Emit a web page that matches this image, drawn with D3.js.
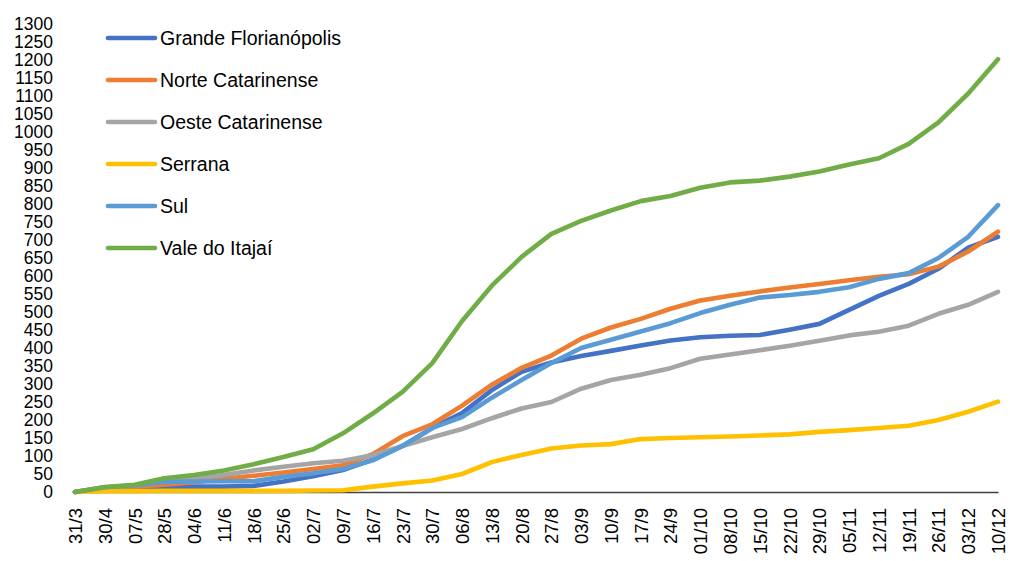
<!DOCTYPE html>
<html>
<head>
<meta charset="utf-8">
<script src="https://cdn.jsdelivr.net/npm/d3@7"></script>
<style>
  html, body { margin: 0; padding: 0; background: #fff; }
  svg { display: block; }
  text { font-family: "Liberation Sans", Arial, sans-serif; fill: #000; }
</style>
</head>
<body>
<svg id="chart" width="1010" height="561"></svg>
<script>
// Weekly dates (dd/m)
const categories = ["31/3","30/4","07/5","28/5","04/6","11/6","18/6","25/6","02/7","09/7",
  "16/7","23/7","30/7","06/8","13/8","20/8","27/8","03/9","10/9","17/9","24/9",
  "01/10","08/10","15/10","22/10","29/10","05/11","12/11","19/11","26/11","03/12","10/12"];

const grandeFlorianopolis = [0,10,13,15,15,15,17,29,44,61,90,128,178,219,283,334,360,378,392,407,421,430,434,436,451,467,506,545,578,620,679,709];
const norteCatarinense    = [0,10,14,20,27,37,45,54,64,74,105,155,188,240,298,345,379,426,457,481,509,532,545,557,568,578,588,598,605,626,668,723];
const oesteCatarinense    = [0,12,18,30,38,47,60,70,80,87,102,128,152,175,205,232,250,287,311,326,344,370,382,394,406,420,435,445,462,495,520,556];
const serrana             = [0,2,2,3,3,3,3,3,4,5,15,24,32,50,83,103,121,129,133,147,150,152,154,157,160,167,172,178,184,200,223,251];
const sul                 = [0,13,18,28,29,30,30,42,52,64,88,128,178,208,262,311,358,400,423,446,469,497,520,540,547,556,569,592,608,650,709,797];
const valeDoItajai        = [0,14,20,38,47,60,77,97,119,163,218,278,358,475,573,653,717,753,782,808,822,845,860,865,876,890,910,927,967,1027,1107,1202];

const seriesNames  = ["Grande Florianópolis","Norte Catarinense","Oeste Catarinense","Serrana","Sul","Vale do Itajaí"];
const seriesValues = [grandeFlorianopolis, norteCatarinense, oesteCatarinense, serrana, sul, valeDoItajai];
const seriesColors = ["#4472C4","#ED7D31","#A5A5A5","#FFC000","#5B9BD5","#70AD47"];

const yTicks = d3.range(0, 1301, 50);

const svg = d3.select("#chart");

const x = d3.scalePoint().domain(categories).range([75, 998]);
const y = d3.scaleLinear().domain([0, 1300]).range([492, 24]);

// Y axis: labels only, no axis line
const yAxis = svg.append("g")
  .attr("transform", "translate(60,0)")
  .call(d3.axisLeft(y).tickValues(yTicks).tickSize(0).tickPadding(7).tickFormat(d3.format("d")));
yAxis.select(".domain").remove();
yAxis.selectAll("text")
  .style("font-size", "17.5px")
  .style("font-family", '"Liberation Sans", Arial, sans-serif')
  .attr("fill", "#000");

// X axis: baseline plus rotated date labels
const xAxis = svg.append("g")
  .attr("transform", `translate(0,${y(0)})`)
  .call(d3.axisBottom(x).tickSize(0).tickPadding(0));
xAxis.select(".domain").attr("stroke", "#404040").attr("stroke-width", 1.3);
xAxis.selectAll("text")
  .style("font-size", "18.5px")
  .style("font-family", '"Liberation Sans", Arial, sans-serif')
  .attr("fill", "#000")
  .attr("text-anchor", "end")
  .attr("dominant-baseline", "central")
  .attr("dy", null)
  .attr("y", 0)
  .attr("transform", "translate(0,16) rotate(-90)");

// One polyline per region
const line = d3.line()
  .x((d, i) => x(categories[i]))
  .y(d => y(d));

svg.append("g").selectAll("path")
  .data(seriesValues)
  .join("path")
  .attr("d", d => line(d))
  .attr("fill", "none")
  .attr("stroke", (d, i) => seriesColors[i])
  .attr("stroke-width", 4.6)
  .attr("stroke-linejoin", "round")
  .attr("stroke-linecap", "round");

// Legend
const legend = svg.append("g");
seriesNames.forEach((name, i) => {
  const yy = 38 + i * 42;
  legend.append("line")
    .attr("x1", 108).attr("x2", 155)
    .attr("y1", yy).attr("y2", yy)
    .attr("stroke", seriesColors[i])
    .attr("stroke-width", 4.6)
    .attr("stroke-linecap", "round");
  legend.append("text")
    .attr("x", 160).attr("y", yy)
    .attr("dominant-baseline", "central")
    .style("font-size", "19.5px")
    .text(name);
});
</script>
</body>
</html>
